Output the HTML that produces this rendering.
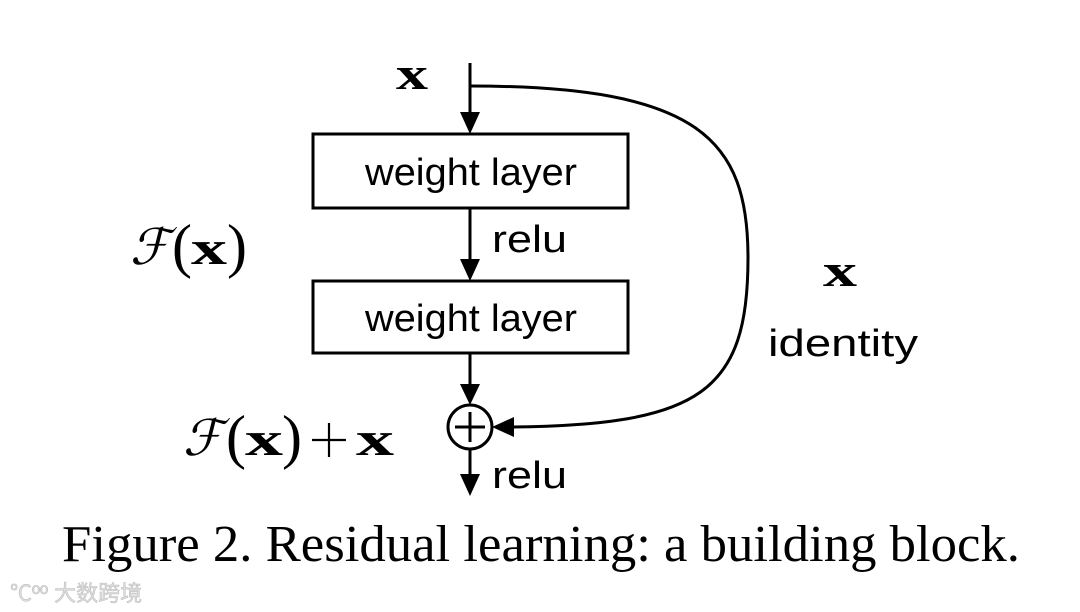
<!DOCTYPE html>
<html><head><meta charset="utf-8"><style>
html,body{margin:0;padding:0;background:#fff;width:1080px;height:612px;overflow:hidden}
</style></head><body>
<svg width="1080" height="612" viewBox="0 0 1080 612" xmlns="http://www.w3.org/2000/svg">
<g stroke="#000" stroke-width="3" fill="none">
<line x1="470" y1="63" x2="470" y2="115"/>
<rect x="313" y="134" width="315" height="74"/>
<line x1="470" y1="208" x2="470" y2="262"/>
<rect x="313" y="281" width="315" height="72"/>
<line x1="470" y1="353" x2="470" y2="387"/>
<circle cx="470" cy="427" r="22"/>
<line x1="470" y1="412" x2="470" y2="442"/>
<line x1="455" y1="427" x2="485" y2="427"/>
<line x1="470" y1="449" x2="470" y2="477"/>
<path d="M470,86 C700,86 748,140 748,258 C748,392 700,425 512,427"/>
</g>
<g stroke="#000" stroke-width="2.2">
<line x1="312" y1="440" x2="346" y2="440"/>
<line x1="329" y1="423" x2="329" y2="457"/>
</g>
<g fill="#000">
<polygon points="460,112 480,112 470,134"/>
<polygon points="460,259 480,259 470,281"/>
<polygon points="460,384 480,384 470,405"/>
<polygon points="460,474 480,474 470,496"/>
<polygon points="514,417 514,437 492,427"/>
</g>
<g font-family="Liberation Serif, serif" fill="#000">
<text x="396" y="89" font-size="46" font-weight="bold" textLength="32" lengthAdjust="spacingAndGlyphs">x</text>
<text x="823" y="286" font-size="46" font-weight="bold" textLength="34" lengthAdjust="spacingAndGlyphs">x</text>
<text x="130" y="264" font-size="50" font-style="italic">ℱ</text>
<text x="172" y="266" font-size="60" font-weight="normal">(</text>
<text x="191" y="264" font-size="48" font-weight="bold" textLength="36" lengthAdjust="spacingAndGlyphs">x</text>
<text x="227" y="266" font-size="60">)</text>
<text x="183" y="455" font-size="50" font-style="italic">ℱ</text>
<text x="226" y="457" font-size="60">(</text>
<text x="245" y="455" font-size="48" font-weight="bold" textLength="38" lengthAdjust="spacingAndGlyphs">x</text>
<text x="282" y="457" font-size="60">)</text>
<text x="356" y="455" font-size="48" font-weight="bold" textLength="38" lengthAdjust="spacingAndGlyphs">x</text>
<text x="541" y="561" font-size="52" text-anchor="middle" textLength="958" lengthAdjust="spacingAndGlyphs">Figure 2. Residual learning: a building block.</text>
</g>
<g font-family="Liberation Sans, DejaVu Sans, sans-serif" fill="#000" font-size="38">
<text x="365" y="185" textLength="212" lengthAdjust="spacingAndGlyphs">weight layer</text>
<text x="365" y="331" textLength="212" lengthAdjust="spacingAndGlyphs">weight layer</text>
<text x="492" y="252" textLength="75" lengthAdjust="spacingAndGlyphs">relu</text>
<text x="492" y="488" textLength="75" lengthAdjust="spacingAndGlyphs">relu</text>
<text x="768" y="356" textLength="150" lengthAdjust="spacingAndGlyphs">identity</text>
</g>
<text x="10" y="601" font-family="Liberation Sans, Noto Sans CJK SC, sans-serif" font-size="22" fill="#ddd" stroke="#bbb" stroke-width="0.5">℃ºº 大数跨境</text>
</svg>
</body></html>
